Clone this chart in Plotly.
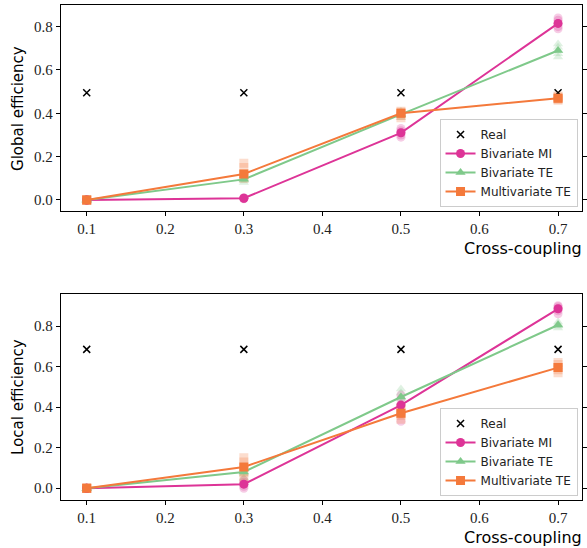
import plotly.graph_objects as go

# ---------------- data ----------------
coupling = [0.1, 0.3, 0.5, 0.7]
x_ticks = [0.1, 0.2, 0.3, 0.4, 0.5, 0.6, 0.7]
y_ticks = [0.0, 0.2, 0.4, 0.6, 0.8]

# Global efficiency (top panel)
glob_real = [0.495, 0.495, 0.495, 0.495]
glob_mi_mean = [0.0, 0.008, 0.31, 0.815]
glob_bte_mean = [0.0, 0.095, 0.395, 0.69]
glob_mte_mean = [0.0, 0.12, 0.40, 0.47]
glob_mi_reps = [[0.0, 0.0, 0.0, 0.0, 0.0],
                [0.005, 0.008, 0.010, 0.007, 0.009],
                [0.29, 0.30, 0.31, 0.32, 0.33],
                [0.79, 0.80, 0.815, 0.83, 0.84]]
glob_bte_reps = [[0.0, 0.0, 0.0, 0.0, 0.0],
                 [0.08, 0.09, 0.095, 0.10, 0.11],
                 [0.38, 0.39, 0.395, 0.40, 0.41],
                 [0.66, 0.675, 0.69, 0.705, 0.72]]
glob_mte_reps = [[0.0, 0.0, 0.0, 0.0, 0.0],
                 [0.10, 0.11, 0.12, 0.15, 0.17],
                 [0.38, 0.39, 0.40, 0.405, 0.41],
                 [0.46, 0.465, 0.47, 0.475, 0.48]]

# Local efficiency (bottom panel)
loc_real = [0.685, 0.685, 0.685, 0.685]
loc_mi_mean = [0.0, 0.02, 0.41, 0.885]
loc_bte_mean = [0.0, 0.08, 0.45, 0.805]
loc_mte_mean = [0.0, 0.105, 0.37, 0.595]
loc_mi_reps = [[0.0, 0.0, 0.0, 0.0, 0.0],
               [0.0, 0.01, 0.02, 0.03, 0.04],
               [0.33, 0.37, 0.41, 0.44, 0.46],
               [0.86, 0.875, 0.885, 0.895, 0.90]]
loc_bte_reps = [[0.0, 0.0, 0.0, 0.0, 0.0],
                [0.05, 0.07, 0.08, 0.09, 0.10],
                [0.42, 0.44, 0.45, 0.47, 0.49],
                [0.79, 0.80, 0.805, 0.81, 0.82]]
loc_mte_reps = [[0.0, 0.0, 0.0, 0.0, 0.0],
                [0.05, 0.08, 0.105, 0.13, 0.15],
                [0.34, 0.36, 0.37, 0.385, 0.40],
                [0.57, 0.585, 0.595, 0.61, 0.62]]

series_names = ["Bivariate MI", "Bivariate TE", "Multivariate TE"]
colors = ["#dd3497", "#7fc98a", "#f4793b"]
symbols = ["circle", "triangle-up", "square"]

W, H = 587, 548
fig = go.Figure()

panels = [
    dict(real=glob_real, means=[glob_mi_mean, glob_bte_mean, glob_mte_mean],
         reps=[glob_mi_reps, glob_bte_reps, glob_mte_reps],
         xa="x", ya="y", legend="legend", ylabel="Global efficiency",
         top=5, bottom=211, yrange=[-0.051, 0.90], leg_bottom=207),
    dict(real=loc_real, means=[loc_mi_mean, loc_bte_mean, loc_mte_mean],
         reps=[loc_mi_reps, loc_bte_reps, loc_mte_reps],
         xa="x2", ya="y2", legend="legend2", ylabel="Local efficiency",
         top=294, bottom=500, yrange=[-0.058, 0.958], leg_bottom=496),
]

for p in panels:
    # faded repetitions
    for reps, c, s in zip(p["reps"], colors, symbols):
        xs, ys = [], []
        for xv, vals in zip(coupling, reps):
            for v in vals:
                xs.append(xv)
                ys.append(v)
        fig.add_trace(go.Scatter(x=xs, y=ys, mode="markers", xaxis=p["xa"], yaxis=p["ya"],
                                 marker=dict(symbol=s, size=9, color=c, opacity=0.25),
                                 showlegend=False, hoverinfo="skip"))
    fig.add_trace(go.Scatter(x=coupling, y=p["real"], mode="markers", name="Real",
                             xaxis=p["xa"], yaxis=p["ya"], legend=p["legend"],
                             marker=dict(symbol="x-thin-open", size=7, color="black",
                                         line=dict(color="black", width=1.5))))
    for m, name, c, s in zip(p["means"], series_names, colors, symbols):
        fig.add_trace(go.Scatter(x=coupling, y=m, mode="lines+markers", name=name,
                                 xaxis=p["xa"], yaxis=p["ya"], legend=p["legend"],
                                 line=dict(color=c, width=2),
                                 marker=dict(symbol=s, size=9, color=c)))

axis_common = dict(showgrid=False, zeroline=False, showline=True, linecolor="black",
                   linewidth=1.2, ticks="outside", ticklen=4, tickcolor="black",
                   tickfont=dict(family="Liberation Serif", size=15, color="#222"))

xdom = [61 / W, 584 / W]
layout = dict(width=W, height=H, margin=dict(l=0, r=0, t=0, b=0),
              plot_bgcolor="white", paper_bgcolor="white")
annotations = []
for i, p in enumerate(panels):
    sfx = "" if i == 0 else "2"
    ydom = [1 - p["bottom"] / H, 1 - p["top"] / H]
    layout["xaxis" + sfx] = dict(axis_common, domain=xdom, range=[0.067, 0.7305],
                                 tickvals=x_ticks, ticktext=[f"{v:.1f}" for v in x_ticks],
                                 anchor="y" + sfx, mirror=True)
    layout["yaxis" + sfx] = dict(axis_common, domain=ydom, range=p["yrange"],
                                 tickvals=y_ticks, ticktext=[f"{v:.1f}" for v in y_ticks],
                                 anchor="x" + sfx, mirror="ticks")
    layout[p["legend"]] = dict(x=579.5 / W, y=1 - p["leg_bottom"] / H,
                               xanchor="right", yanchor="bottom",
                               bgcolor="rgba(255,255,255,0.8)", bordercolor="#cccccc",
                               borderwidth=1, font=dict(family="DejaVu Sans", size=12, color="#222"),
                               tracegroupgap=0, itemwidth=30)
    annotations.append(dict(text="Cross-coupling", xref="paper", yref="paper",
                            x=586 / W, y=1 - (p["bottom"] + 37) / H,
                            xanchor="right", yanchor="middle", showarrow=False,
                            font=dict(family="DejaVu Sans", size=16, color="black")))
    annotations.append(dict(text=p["ylabel"], xref="paper", yref="paper",
                            x=18 / W, y=1 - (p["top"] + p["bottom"]) / 2 / H,
                            xanchor="center", yanchor="middle", textangle=-90, showarrow=False,
                            font=dict(family="DejaVu Sans", size=15, color="black")))
layout["annotations"] = annotations
fig.update_layout(**layout)
fig.write_html("out.html", config={"displayModeBar": False},
               post_script="document.body.style.margin='0';document.body.style.overflow='hidden';")
